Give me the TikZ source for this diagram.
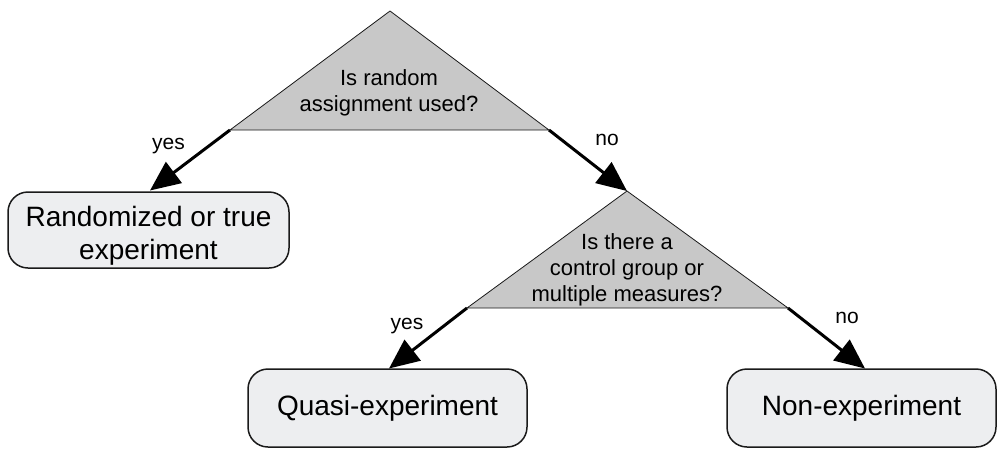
\documentclass[tikz,border=0pt]{standalone}
\usepackage{fontspec}
\setmainfont{Liberation Sans}
\usetikzlibrary{arrows.meta}
\definecolor{trifill}{HTML}{C8C8C8}
\definecolor{boxfill}{HTML}{EDEEF0}
\definecolor{edge}{HTML}{1A1A1A}
\begin{document}
\begin{tikzpicture}[x=1pt,y=-1pt,
 tri/.style={draw=edge, fill=trifill, line width=0.8pt, line join=miter},
 qtext/.style={align=center, font=\fontsize{22}{26}\selectfont, inner sep=0pt},
 outcome/.style={draw=edge, fill=boxfill, line width=1.5pt, rounded corners=20pt,
   align=center, font=\fontsize{28}{33}\selectfont, inner sep=0pt},
 lbl/.style={font=\fontsize{21}{25}\selectfont, inner sep=0pt, anchor=base},
 arr/.style={line width=3pt, -{Triangle[length=30pt,width=26pt]}}]
\useasboundingbox (0,0) rectangle (1000,448);

% question triangles
\coordinate (t1a) at (390,11);
\coordinate (t1l) at (230,130);
\coordinate (t1r) at (549,130);
\draw[tri] (t1a) -- (t1r) -- (t1l) -- cycle;
\node[qtext] (q1) at (389,92.8) {Is random\\assignment used?};

\coordinate (t2a) at (627,191);
\coordinate (t2l) at (467,308);
\coordinate (t2r) at (788,308);
\draw[tri] (t2a) -- (t2r) -- (t2l) -- cycle;
\node[qtext] (q2) at (627,270.3) {Is there a\\control group or\\multiple measures?};

% outcome boxes
\node[outcome, minimum width=281pt, minimum height=76pt] (b1) at (148.5,230)
  {\rule{0pt}{31pt}Randomized or true\\experiment};
\node[outcome, minimum width=279pt, minimum height=78pt] (b2) at (387.5,408)
  {Quasi-experiment};
\node[outcome, minimum width=269pt, minimum height=78pt] (b3) at (861.5,408)
  {Non-experiment};

% arrow end points on the box tops
\coordinate (e1) at (150,190.5);
\coordinate (e3) at (389,368.5);
\coordinate (e4) at (865,368.5);

% connectors
\draw[arr] (t1l) -- (e1);
\draw[arr] (t1r) -- (t2a);
\draw[arr] (t2l) -- (e3);
\draw[arr] (t2r) -- (e4);

% labels
\node[lbl] (l1) at (168.5,149) {yes};
\node[lbl] (l2) at (607,145) {no};
\node[lbl] (l3) at (407,329) {yes};
\node[lbl] (l4) at (847,323) {no};
\end{tikzpicture}
\end{document}
